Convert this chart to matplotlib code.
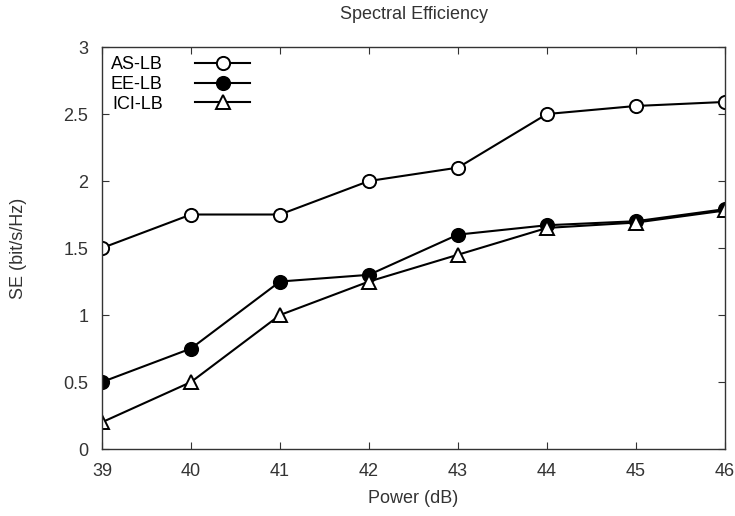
import matplotlib
matplotlib.use('Agg')
import matplotlib.pyplot as plt

plt.rcParams['font.family'] = ['Liberation Sans', 'DejaVu Sans']

power = [39, 40, 41, 42, 43, 44, 45, 46]
as_lb = [1.5, 1.75, 1.75, 2.0, 2.1, 2.5, 2.56, 2.59]
ee_lb = [0.5, 0.75, 1.25, 1.3, 1.6, 1.67, 1.7, 1.79]
ici_lb = [0.2, 0.5, 1.0, 1.25, 1.45, 1.65, 1.69, 1.78]
yticks = [0, 0.5, 1, 1.5, 2, 2.5, 3]
ytick_labels = ['0', '0.5', '1', '1.5', '2', '2.5', '3']

fig = plt.figure(figsize=(7.35, 5.16), dpi=100)
ax = fig.add_axes([0.1388, 0.1298, 0.8476, 0.7791])

ax.plot(power, as_lb, color='black', lw=1.5, marker='o', ms=9.5,
        mfc='white', mec='black', mew=1.4, label='AS-LB')
ax.plot(power, ee_lb, color='black', lw=1.5, marker='o', ms=9.5,
        mfc='black', mec='black', mew=1.4, label='EE-LB')
ax.plot(power, ici_lb, color='black', lw=1.5, marker='^', ms=10.5,
        mfc='white', mec='black', mew=1.4, label='ICI-LB')

ax.set_xlim(39, 46)
ax.set_ylim(0, 3)
ax.set_xticks(power)
ax.set_yticks(yticks)
ax.set_yticklabels(ytick_labels)
ax.tick_params(direction='in', top=True, right=True, length=5,
               labelsize=13, colors='#333333', pad=10)
for s in ax.spines.values():
    s.set_color('#333333')
    s.set_linewidth(1.0)

ax.set_title('Spectral Efficiency', fontsize=13, color='#333333', pad=20)
ax.set_xlabel('Power (dB)', fontsize=13, color='#333333', labelpad=7)
ax.set_ylabel('SE (bit/s/Hz)', fontsize=13, color='#333333', labelpad=26)

leg = ax.legend(loc='upper right', bbox_to_anchor=(0.2376, 0.977),
                frameon=False, markerfirst=False, handlelength=3.05,
                handletextpad=1.8, fontsize=13, labelspacing=0.15,
                borderpad=0, borderaxespad=0)

# gnuplot-style key: labels right-aligned against the samples
fig.canvas.draw()
renderer = fig.canvas.get_renderer()
widths = [t.get_window_extent(renderer).width for t in leg.get_texts()]
for t, w in zip(leg.get_texts(), widths):
    t.set_position((max(widths) - w, 0))

fig.savefig('out.png', dpi=100)
